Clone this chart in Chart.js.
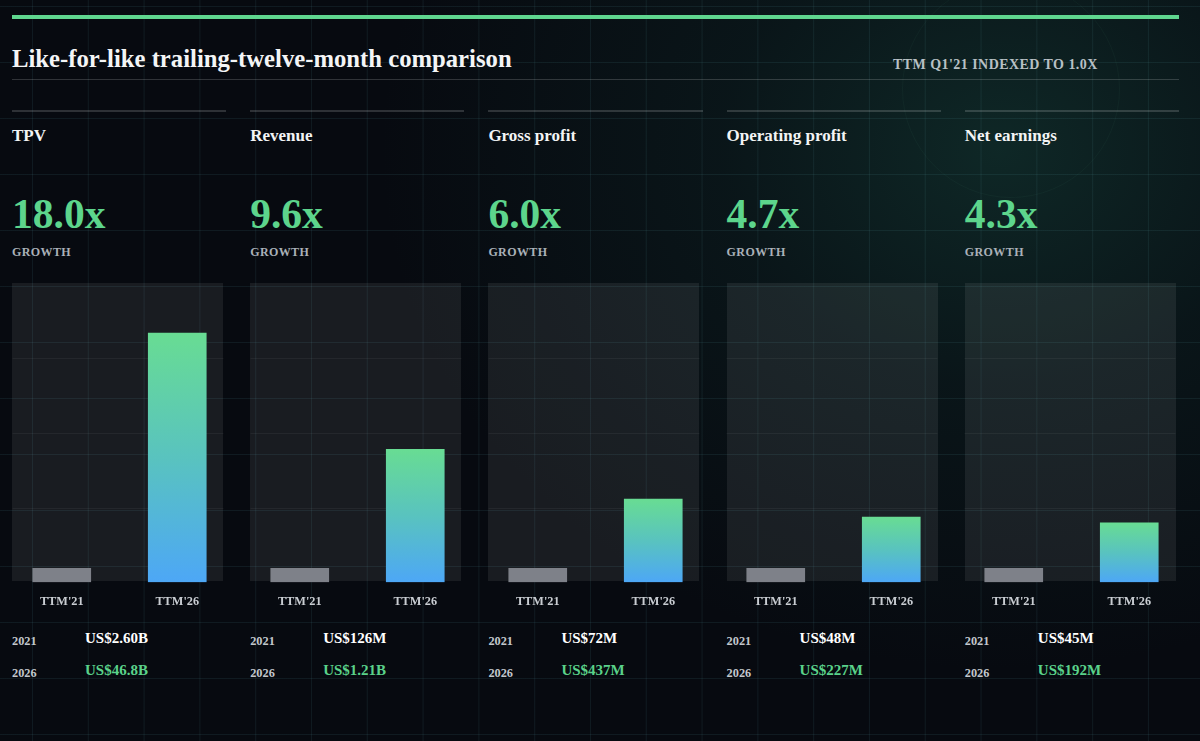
<!DOCTYPE html>
<html>
<head>
<meta charset="utf-8">
<script src="https://cdn.jsdelivr.net/npm/chart.js@4"></script>
<style>
  html, body { margin:0; padding:0; }
  body {
    width:1200px; height:741px; overflow:hidden; position:relative;
    background-color:#070a10;
    background-image:
      linear-gradient(to right, rgba(110,200,210,0.085) 1px, transparent 1px),
      linear-gradient(to bottom, rgba(110,200,210,0.085) 1px, transparent 1px),
      radial-gradient(ellipse 620px 520px at 1000px 150px, rgba(28,92,78,0.36) 0%, rgba(20,66,60,0.2) 45%, rgba(10,30,30,0) 100%);
    background-size: 55.8px 56px, 55.8px 56px, 100% 100%;
    background-position: 32px 0, 0 6px, 0 0;
    font-family: "Liberation Serif", "DejaVu Serif", serif;
  }
  .abs { position:absolute; white-space:nowrap; font-weight:bold; }
  .rule { position:absolute; }
  .box { position:absolute; background:rgba(255,255,255,0.075); }
  canvas { position:absolute; }
  .ring { position:absolute; border-radius:50%; border:1px solid rgba(110,220,160,0.045); }
</style>
</head>
<body>
<script>
// ---- data ----
const titleText = "Like-for-like trailing-twelve-month comparison";
const noteText = "TTM Q1'21 INDEXED TO 1.0X";
const metrics = ["TPV", "Revenue", "Gross profit", "Operating profit", "Net earnings"];
const categories = ["TTM'21", "TTM'26"];
const ttm21Index = [1.0, 1.0, 1.0, 1.0, 1.0];
const ttm26Index = [18.0, 9.6, 6.0, 4.7, 4.3];
const yearLabels = ["2021", "2026"];
const values2021 = ["US$2.60B", "US$126M", "US$72M", "US$48M", "US$45M"];
const values2026 = ["US$46.8B", "US$1.21B", "US$437M", "US$227M", "US$192M"];
const yTicks = [0, 5.4, 10.8, 16.2, 21.6];
const growthWord = "GROWTH";

// ---- helpers ----
const FONT = '"Liberation Serif", "DejaVu Serif", serif';
function txt(text, x, baseline, size, color, spacing) {
  const d = document.createElement('div');
  d.className = 'abs';
  d.textContent = text;
  d.style.left = x + 'px';
  d.style.top = (baseline - 0.8375 * size) + 'px';
  d.style.fontSize = size + 'px';
  d.style.lineHeight = size + 'px';
  d.style.color = color;
  if (spacing) d.style.letterSpacing = spacing + 'px';
  document.body.appendChild(d);
  return d;
}
function rule(x, y, w, h, color) {
  const d = document.createElement('div');
  d.className = 'rule';
  Object.assign(d.style, {left:x+'px', top:y+'px', width:w+'px', height:h+'px', background:color});
  document.body.appendChild(d);
}

// decorative ring
const ring = document.createElement('div');
ring.className = 'ring';
Object.assign(ring.style, {left:(1010-108)+'px', top:(88-108)+'px', width:'216px', height:'216px'});
document.body.appendChild(ring);

// header
rule(12, 15, 1167, 4, '#5fd68f');
txt(titleText, 12, 67.5, 24.7, '#f4f5f6');
txt(noteText, 893, 70, 14, '#b8c0c5', 0.45);
rule(12, 78.5, 1167, 1, 'rgba(255,255,255,0.17)');

const PANEL_W = 214.2, PANEL_STEP = 238.2, BOX_W = 211, CANVAS_W = 231, CANVAS_H = 348, CANVAS_TOP = 273;
const BOX_OFF = 8.5; // box left inside canvas

const gridPlugin = {
  id: 'boxGrid',
  beforeDatasetsDraw(chart) {
    const {ctx} = chart;
    const y = chart.scales.y;
    ctx.save();
    ctx.strokeStyle = 'rgba(255,255,255,0.05)';
    ctx.lineWidth = 1;
    yTicks.slice(1, -1).forEach(v => {
      const py = Math.round(y.getPixelForValue(v)) + 0.5;
      ctx.beginPath();
      ctx.moveTo(BOX_OFF, py);
      ctx.lineTo(BOX_OFF + BOX_W, py);
      ctx.stroke();
    });
    ctx.restore();
  }
};

metrics.forEach((name, i) => {
  const left = 12 + i * PANEL_STEP;
  rule(left, 109.5, PANEL_W, 2, 'rgba(255,255,255,0.16)');
  txt(name, left, 141.7, 17, '#f3f4f5');
  txt(ttm26Index[i].toFixed(1) + 'x', left, 228.7, 41.5, '#5dd58c');
  txt(growthWord, left, 256, 12, '#aab1b8', 0.4);

  // plot box
  const box = document.createElement('div');
  box.className = 'box';
  Object.assign(box.style, {left:left+'px', top:'283.3px', width:BOX_W+'px', height:(581-283.3)+'px'});
  document.body.appendChild(box);

  // bottom values
  const vx = left + 73;
  txt(yearLabels[0], left, 645, 12.3, '#c2c7cc');
  txt(values2021[i], vx, 643.3, 15, '#ffffff');
  txt(yearLabels[1], left, 677.7, 12.3, '#c2c7cc');
  txt(values2026[i], vx, 675.7, 15, '#5ad28a');

  // chart
  const cv = document.createElement('canvas');
  cv.width = CANVAS_W; cv.height = CANVAS_H;
  cv.style.left = (left - BOX_OFF) + 'px';
  cv.style.top = CANVAS_TOP + 'px';
  cv.style.width = CANVAS_W + 'px';
  cv.style.height = CANVAS_H + 'px';
  document.body.appendChild(cv);

  new Chart(cv.getContext('2d'), {
    type: 'bar',
    data: {
      labels: categories,
      datasets: [{
        data: [ttm21Index[i], ttm26Index[i]],
        barThickness: 58,
        borderWidth: 0,
        backgroundColor: (c) => {
          if (c.dataIndex === 0) return '#7e8189';
          const chart = c.chart;
          if (!chart.chartArea) return '#5ec6b4';
          const ys = chart.scales.y;
          const top = ys.getPixelForValue(ttm26Index[i]);
          const bot = ys.getPixelForValue(0);
          const g = chart.ctx.createLinearGradient(0, top, 0, bot);
          g.addColorStop(0, '#68dc93');
          g.addColorStop(0.5, '#59c3bf');
          g.addColorStop(1, '#4da7f6');
          return g;
        }
      }]
    },
    options: {
      responsive: false,
      animation: false,
      devicePixelRatio: 1,
      layout: { padding: { top: 10.3, bottom: 0, left: 0, right: 0 } },
      plugins: { legend: { display: false }, tooltip: { enabled: false } },
      scales: {
        x: {
          grid: { display: false, drawTicks: false },
          border: { display: false },
          ticks: { color: '#c9cdd2', padding: 12, font: { family: FONT, size: 12.3, weight: 'bold' } }
        },
        y: { display: false, min: yTicks[0], max: yTicks[yTicks.length - 1] }
      }
    },
    plugins: [gridPlugin]
  });
});
</script>
</body>
</html>
